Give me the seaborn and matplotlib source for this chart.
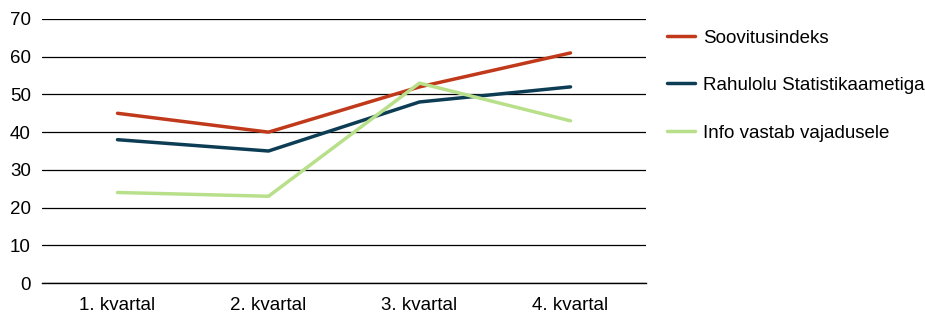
import pandas as pd
import matplotlib
matplotlib.use("Agg")
import matplotlib.pyplot as plt
import seaborn as sns

# Data
quarters = ["1. kvartal", "2. kvartal", "3. kvartal", "4. kvartal"]
soovitusindeks = [45, 40, 52, 61]
rahulolu = [38, 35, 48, 52]
info = [24, 23, 53, 43]

series_names = ["Soovitusindeks", "Rahulolu Statistikaametiga", "Info vastab vajadusele"]
colors = ["#c0391b", "#0d3d55", "#b8e08a"]

df = pd.DataFrame({
    "Kvartal": quarters * 3,
    "Väärtus": soovitusindeks + rahulolu + info,
    "Seeria": [series_names[0]] * 4 + [series_names[1]] * 4 + [series_names[2]] * 4,
})

sns.set_style("white")
plt.rcParams["font.family"] = ["Liberation Sans", "DejaVu Sans"]
plt.rcParams["text.color"] = "black"
plt.rcParams["xtick.color"] = "black"
plt.rcParams["ytick.color"] = "black"

fig = plt.figure(figsize=(9.25, 3.14), dpi=100)
ax = fig.add_axes([0.0454, 0.0987, 0.6530, 0.8408])

sns.lineplot(data=df, x="Kvartal", y="Väärtus", hue="Seeria",
             palette=colors, linewidth=2.5, ax=ax, sort=False)

# Axes styling
ax.set_ylim(0, 70)
ax.set_xlim(-0.5, 3.5)
ax.set_yticks(range(0, 71, 10))
ax.yaxis.grid(True, color="#000000", linewidth=0.9)
ax.set_axisbelow(True)
for side in ["top", "right", "left"]:
    ax.spines[side].set_visible(False)
ax.spines["bottom"].set_color("#000000")
ax.spines["bottom"].set_linewidth(1.0)

ax.set_xticks(range(4))
ax.set_xticklabels(quarters)
ax.set_xticks([-0.5, 0.5, 1.5, 2.5, 3.5], minor=True)
ax.tick_params(axis="x", which="major", length=0, pad=10, labelsize=13.5)
ax.tick_params(axis="x", which="minor", length=5, width=1, color="#555555", direction="out")
ax.tick_params(axis="y", length=0, pad=8, labelsize=13.5)
ax.set_xlabel("")
ax.set_ylabel("")

# Legend on the right
handles, labels = ax.get_legend_handles_labels()
leg = ax.legend(handles, labels, loc="upper left", bbox_to_anchor=(1.022, 0.989),
                frameon=False, fontsize=13.5, handlelength=1.5, handletextpad=0.45,
                labelspacing=1.62, borderaxespad=0)
for line in leg.get_lines():
    line.set_linewidth(2.5)

fig.savefig("out.png", dpi=100)
